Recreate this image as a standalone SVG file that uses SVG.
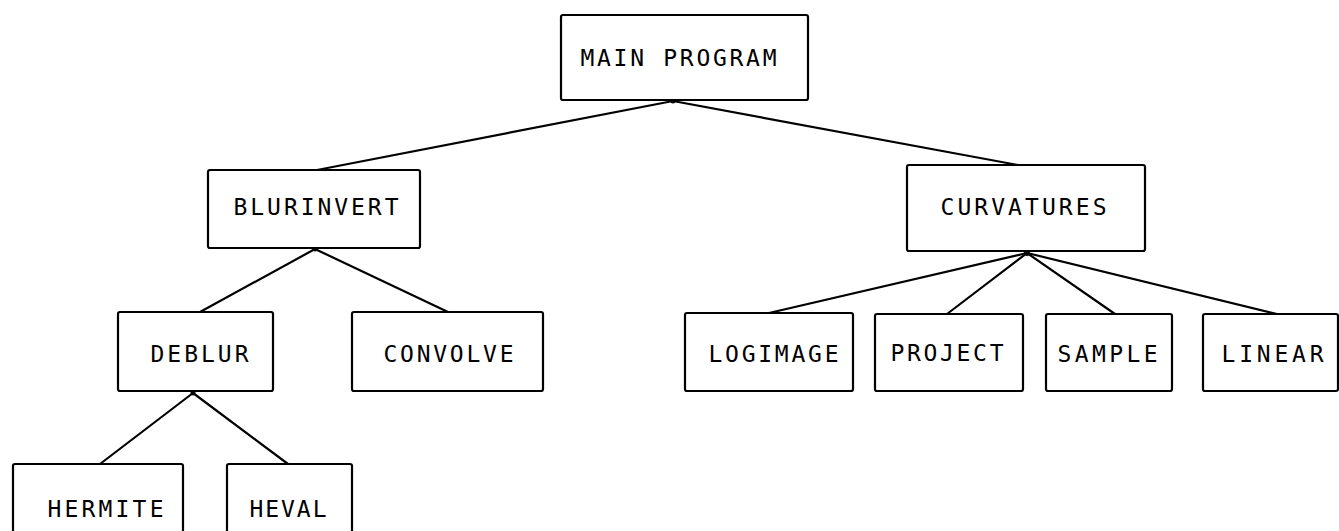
<svg xmlns="http://www.w3.org/2000/svg" width="1339" height="531" viewBox="0 0 1339 531">
  <style>
    .box { fill: #ffffff; stroke: #000000; stroke-width: 2.2; }
    .label { font-family: "DejaVu Sans Mono", "Liberation Mono", monospace; font-size: 23px; fill: #000000; }
    .edge { stroke: #000000; stroke-width: 2.2; fill: none; stroke-linecap: round; }
    .joint { fill: #000000; }
  </style>
  <rect width="1339" height="531" fill="#ffffff"/>

  <!-- call-tree connectors -->
  <g id="connectors">
    <line class="edge" x1="673" y1="101" x2="317" y2="170"/>
    <line class="edge" x1="673" y1="101" x2="1018" y2="165"/>
    <line class="edge" x1="315" y1="249" x2="200" y2="312"/>
    <line class="edge" x1="315" y1="249" x2="448" y2="312"/>
    <line class="edge" x1="1027" y1="253" x2="769" y2="313"/>
    <line class="edge" x1="1027" y1="253" x2="947" y2="314"/>
    <line class="edge" x1="1027" y1="253" x2="1115" y2="314"/>
    <line class="edge" x1="1027" y1="253" x2="1277" y2="314"/>
    <line class="edge" x1="193" y1="393" x2="100" y2="464"/>
    <line class="edge" x1="193" y1="393" x2="288" y2="464"/>
    <circle class="joint" cx="673" cy="101" r="2.5"/>
    <circle class="joint" cx="315" cy="249" r="2.5"/>
    <circle class="joint" cx="1027" cy="253" r="3"/>
    <circle class="joint" cx="193" cy="393" r="2.5"/>
  </g>

  <g id="main-program">
    <rect class="box" x="561" y="15" width="247" height="85" rx="2"/>
    <text class="label" x="580.5" y="66" textLength="196" lengthAdjust="spacing">MAIN PROGRAM</text>
  </g>

  <g id="blurinvert">
    <rect class="box" x="208" y="170" width="212" height="78" rx="2"/>
    <text class="label" x="233.5" y="215" textLength="165" lengthAdjust="spacing">BLURINVERT</text>
  </g>

  <g id="curvatures">
    <rect class="box" x="907" y="165" width="238" height="86" rx="2"/>
    <text class="label" x="940.5" y="215" textLength="166" lengthAdjust="spacing">CURVATURES</text>
  </g>

  <g id="deblur">
    <rect class="box" x="118" y="312" width="155" height="79" rx="2"/>
    <text class="label" x="150.5" y="362" textLength="98" lengthAdjust="spacing">DEBLUR</text>
  </g>

  <g id="convolve">
    <rect class="box" x="352" y="312" width="191" height="79" rx="2"/>
    <text class="label" x="383.5" y="362" textLength="130" lengthAdjust="spacing">CONVOLVE</text>
  </g>

  <g id="logimage">
    <rect class="box" x="685" y="313" width="168" height="78" rx="2"/>
    <text class="label" x="708.5" y="362" textLength="130" lengthAdjust="spacing">LOGIMAGE</text>
  </g>

  <g id="project">
    <rect class="box" x="875" y="314" width="148" height="77" rx="2"/>
    <text class="label" x="890.5" y="361" textLength="113" lengthAdjust="spacing">PROJECT</text>
  </g>

  <g id="sample">
    <rect class="box" x="1046" y="314" width="126" height="77" rx="2"/>
    <text class="label" x="1057.5" y="362" textLength="100" lengthAdjust="spacing">SAMPLE</text>
  </g>

  <g id="linear">
    <rect class="box" x="1203" y="314" width="135" height="77" rx="2"/>
    <text class="label" x="1221.5" y="362" textLength="102" lengthAdjust="spacing">LINEAR</text>
  </g>

  <g id="hermite">
    <rect class="box" x="13" y="464" width="170" height="80" rx="2"/>
    <text class="label" x="47.5" y="517" textLength="116" lengthAdjust="spacing">HERMITE</text>
  </g>

  <g id="heval">
    <rect class="box" x="227" y="464" width="125" height="80" rx="2"/>
    <text class="label" x="249.5" y="517" textLength="77" lengthAdjust="spacing">HEVAL</text>
  </g>
</svg>
